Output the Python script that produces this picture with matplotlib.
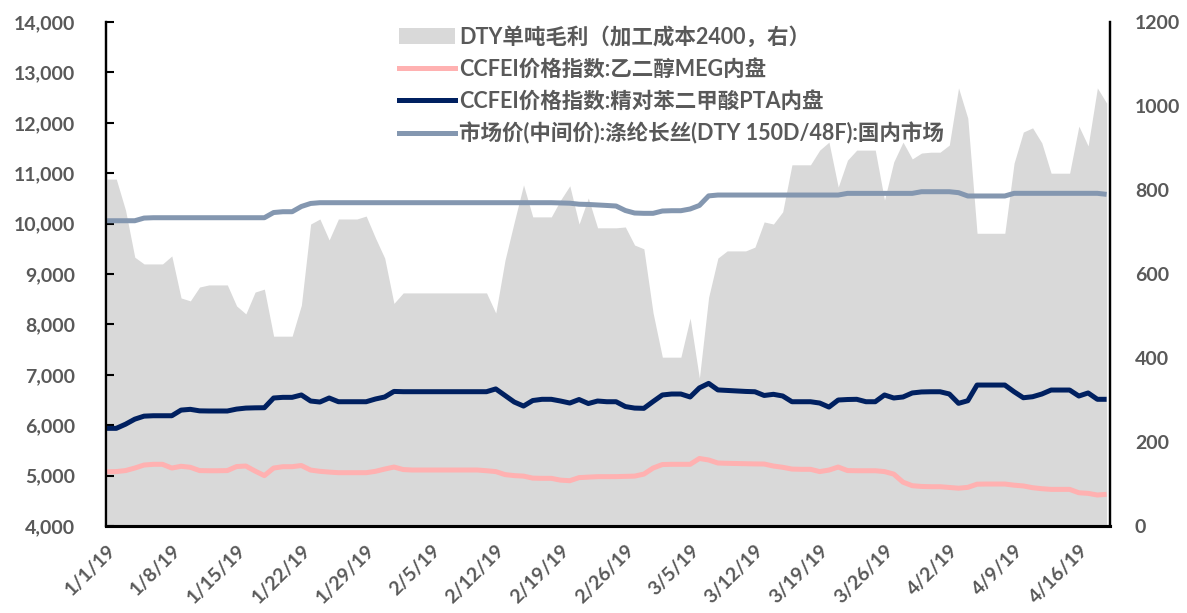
import pandas as pd
import matplotlib
import matplotlib.pyplot as plt
import matplotlib.dates as mdates
from matplotlib.patches import Patch
from matplotlib.lines import Line2D
from matplotlib.font_manager import FontProperties

matplotlib.use("Agg")

plt.rcParams["font.family"] = ["Lato", "Noto Sans CJK SC", "DejaVu Sans"]

# daily series, 1/1/2019 .. 4/19/2019
dates = pd.date_range("2019-01-01", "2019-04-19", freq="D")

dty_margin = [
    826, 826, 752, 640, 624, 624, 624, 643, 543, 536,
    569, 574, 574, 574, 524, 505, 557, 564, 452, 452,
    452, 526, 719, 731, 681, 731, 731, 731, 738, 686,
    638, 530, 555, 555, 555, 555, 555, 555, 555, 555,
    555, 555, 507, 633, 724, 812, 736, 736, 736, 776,
    810, 719, 781, 710, 710, 710, 712, 669, 660, 507,
    402, 402, 402, 495, 352, 545, 638, 655, 655, 655,
    664, 724, 719, 748, 860, 860, 860, 895, 914, 807,
    871, 895, 895, 895, 776, 867, 914, 874, 888, 890,
    890, 907, 1043, 971, 697, 697, 697, 697, 864, 938,
    948, 912, 840, 840, 840, 952, 905, 1043, 1007,
]

meg_price = [
    5077, 5080, 5100, 5150, 5210, 5224, 5224, 5150, 5185, 5165,
    5100, 5097, 5097, 5100, 5180, 5190, 5090, 5000, 5150, 5177,
    5177, 5200, 5110, 5085, 5070, 5058, 5058, 5058, 5058, 5085,
    5130, 5170, 5120, 5111, 5111, 5111, 5111, 5111, 5111, 5111,
    5111, 5097, 5080, 5020, 5000, 4990, 4950, 4946, 4946, 4910,
    4899, 4960, 4970, 4979, 4979, 4980, 4985, 4990, 5030, 5150,
    5220, 5224, 5224, 5224, 5340, 5310, 5250, 5244, 5240, 5236,
    5232, 5230, 5190, 5165, 5130, 5125, 5125, 5080, 5110, 5170,
    5100, 5097, 5097, 5097, 5080, 5030, 4870, 4800, 4785, 4780,
    4780, 4765, 4750, 4767, 4830, 4833, 4833, 4833, 4810, 4795,
    4760, 4740, 4727, 4727, 4727, 4660, 4648, 4615, 4629,
]

pta_price = [
    5938, 5938, 6020, 6120, 6180, 6188, 6188, 6188, 6300, 6315,
    6285, 6282, 6282, 6282, 6320, 6340, 6345, 6347, 6540, 6553,
    6553, 6600, 6480, 6460, 6540, 6466, 6466, 6466, 6466, 6520,
    6560, 6670, 6665, 6665, 6665, 6665, 6665, 6665, 6665, 6665,
    6665, 6665, 6720, 6590, 6460, 6380, 6490, 6514, 6514, 6480,
    6440, 6510, 6430, 6480, 6466, 6466, 6370, 6340, 6335, 6470,
    6600, 6619, 6619, 6560, 6740, 6830, 6700, 6690, 6680, 6670,
    6664, 6590, 6613, 6580, 6466, 6466, 6466, 6440, 6360, 6500,
    6510, 6514, 6466, 6466, 6600, 6540, 6560, 6640, 6660, 6664,
    6664, 6620, 6434, 6486, 6797, 6797, 6797, 6797, 6664, 6545,
    6565, 6619, 6698, 6698, 6698, 6579, 6640, 6514, 6514,
]

dty_price = [
    10057, 10057, 10057, 10057, 10110, 10117, 10117, 10117, 10117, 10117,
    10117, 10117, 10117, 10117, 10117, 10117, 10117, 10117, 10220, 10236,
    10236, 10340, 10400, 10415, 10415, 10415, 10415, 10415, 10415, 10415,
    10415, 10415, 10415, 10415, 10415, 10415, 10415, 10415, 10415, 10415,
    10415, 10415, 10415, 10415, 10415, 10415, 10415, 10415, 10415, 10410,
    10405, 10385, 10380, 10370, 10360, 10349, 10260, 10210, 10204, 10204,
    10250, 10256, 10256, 10290, 10360, 10550, 10567, 10567, 10567, 10567,
    10567, 10567, 10567, 10567, 10567, 10567, 10567, 10567, 10567, 10567,
    10600, 10600, 10600, 10600, 10600, 10600, 10600, 10600, 10633, 10633,
    10633, 10633, 10614, 10548, 10548, 10548, 10548, 10548, 10601, 10601,
    10601, 10601, 10601, 10601, 10601, 10601, 10601, 10601, 10580,
]

labels = [
    "DTY单吨毛利（加工成本2400，右）",
    "CCFEI价格指数:乙二醇MEG内盘",
    "CCFEI价格指数:精对苯二甲酸PTA内盘",
    "市场价(中间价):涤纶长丝(DTY 150D/48F):国内市场",
]

AREA_C = "#d9d9d9"
MEG_C = "#ffb1b1"
PTA_C = "#002060"
DTY_C = "#8497b0"
TXT_C = "#595959"

bold = FontProperties(family=["Lato", "Noto Sans CJK SC", "DejaVu Sans"],
                      weight="bold", size=14)
leg_font = FontProperties(family=["Lato", "Noto Sans CJK SC", "DejaVu Sans"],
                          weight="bold", size=15.5)

fig = plt.figure(figsize=(11.87, 6.13), dpi=100)
ax = fig.add_axes([0.0893, 0.1419, 0.8458, 0.8222])
ax2 = ax.twinx()

ax2.fill_between(dates, dty_margin, 0, color=AREA_C, lw=0, zorder=1)
ax2.set_ylim(0, 1200)
ax2.set_yticks(range(0, 1201, 200))

ax.set_zorder(ax2.get_zorder() + 1)
ax.patch.set_visible(False)

lw = 3.6
ax.plot(dates, meg_price, color=MEG_C, lw=lw, solid_capstyle="butt")
ax.plot(dates, pta_price, color=PTA_C, lw=lw, solid_capstyle="butt")
ax.plot(dates, dty_price, color=DTY_C, lw=lw, solid_capstyle="butt")

ax.set_ylim(4000, 14000)
ax.set_yticks(range(4000, 14001, 1000))
ax.yaxis.set_major_formatter(matplotlib.ticker.FuncFormatter(lambda v, p: f"{int(v):,}"))

x0 = mdates.date2num(dates[0])
x1 = mdates.date2num(dates[-1])
ax.set_xlim(x0 - 0.11, x1 + 0.36)
tick_dates = dates[::7]
ax.set_xticks(mdates.date2num(tick_dates))
ax.set_xticklabels([f"{d.month}/{d.day}/{d.year % 100}" for d in tick_dates],
                   rotation=45, ha="right", rotation_mode="anchor")

for lab in ax.get_yticklabels() + ax2.get_yticklabels() + ax.get_xticklabels():
    lab.set_fontproperties(bold)
    lab.set_color(TXT_C)

ax.tick_params(axis="y", direction="in", length=6, width=1.5, pad=22)
ax.tick_params(axis="x", length=0, pad=11)
ax2.tick_params(axis="y", length=0, pad=18)

for a in (ax, ax2):
    a.spines["top"].set_visible(False)
    a.spines["left"].set_linewidth(1.6)
    a.spines["bottom"].set_linewidth(2.2)
    a.spines["right"].set_linewidth(1.6)

handles = [
    Patch(facecolor=AREA_C, edgecolor="none"),
    Line2D([], [], color=MEG_C, lw=lw),
    Line2D([], [], color=PTA_C, lw=lw),
    Line2D([], [], color=DTY_C, lw=lw),
]
leg = ax.legend(handles, labels, loc="upper left",
                bbox_to_anchor=(399 / 1187, 1 - 26 / 613),
                bbox_transform=fig.transFigure, frameon=False,
                handlelength=2.6, handleheight=0.75, handletextpad=0.2,
                labelspacing=0.5, borderaxespad=0, borderpad=0,
                prop=leg_font)
for t in leg.get_texts():
    t.set_color(TXT_C)

fig.savefig("out.png", dpi=100)
